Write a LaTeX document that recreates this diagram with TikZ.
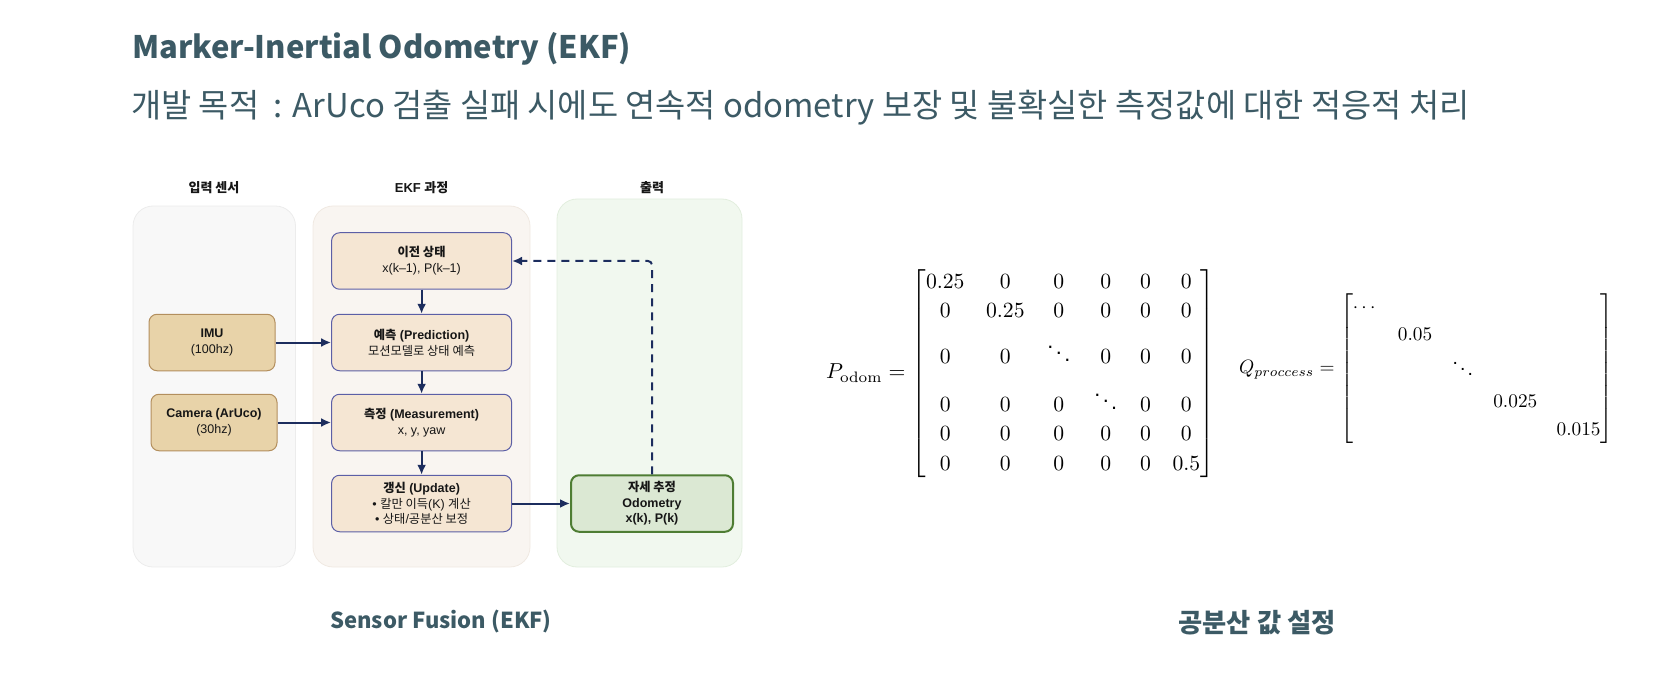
\documentclass[tikz,border=0pt]{standalone}
\usepackage{amsmath}
\usepackage[no-math]{fontspec}
\setmainfont{Liberation Sans}
\newfontfamily\krfont{Noto Sans CJK KR}
\newfontfamily\krbox[Scale=0.98]{Noto Sans CJK KR}
\newcommand\ko[1]{{\krbox #1}}
\usetikzlibrary{arrows.meta}

\definecolor{slate}{HTML}{3C5A65}
\definecolor{inpanel}{HTML}{F8F8F8}
\definecolor{inpanelline}{HTML}{ECECEC}
\definecolor{ekfpanel}{HTML}{F9F5F1}
\definecolor{ekfpanelline}{HTML}{F0E9E2}
\definecolor{outpanel}{HTML}{F1F8EF}
\definecolor{outpanelline}{HTML}{E2EEDE}
\definecolor{ekffill}{HTML}{F5E6D3}
\definecolor{ekfline}{HTML}{5C5FA6}
\definecolor{sensfill}{HTML}{E8D3A9}
\definecolor{sensline}{HTML}{B38F5E}
\definecolor{odofill}{HTML}{DBE8D3}
\definecolor{odoline}{HTML}{4E7D33}
\definecolor{flow}{HTML}{1C2D5E}
\definecolor{boxtext}{HTML}{161616}

\tikzset{
  panel/.style={rounded corners=20pt, line width=0.8pt},
  header/.style={font=\fontsize{13}{15}\selectfont\bfseries, text=boxtext, inner sep=0},
  ekfbox/.style={draw=ekfline, fill=ekffill, line width=1pt, rounded corners=8pt,
    minimum width=180pt, minimum height=56.5pt, align=center, inner sep=2pt,
    text=boxtext, font=\fontsize{12.5}{16}\selectfont},
  sensbox/.style={ekfbox, draw=sensline, fill=sensfill, minimum width=126pt},
  odobox/.style={ekfbox, draw=odoline, fill=odofill, line width=2pt,
    minimum width=162pt, font=\fontsize{12.5}{15.5}\selectfont\bfseries},
  flowarrow/.style={draw=flow, line width=2pt, -{Latex[length=10pt,width=9pt]}},
  dasharrow/.style={flowarrow, dash pattern=on 8pt off 6pt, rounded corners=4pt},
  caption/.style={text=slate, inner sep=0}
}

\begin{document}
\begin{tikzpicture}[x=1pt, y=-1pt]
\useasboundingbox (0,0) rectangle (1670,676);

% headings
\node[anchor=base west, inner sep=0, text=slate, font=\krfont\fontsize{31}{36}\selectfont\bfseries]
  (title) at (132,59) {Marker-Inertial Odometry (EKF)};
\node[anchor=base west, inner sep=0, text=slate, font=\krfont\fontsize{32.8}{38}\selectfont]
  (subtitle) at (131,118) {개발 목적~~: ArUco 검출 실패 시에도 연속적 odometry 보장 및 불확실한 측정값에 대한 적응적 처리};

% column panels
\filldraw[panel, fill=inpanel, draw=inpanelline] (133,206) rectangle (295.5,567);
\filldraw[panel, fill=ekfpanel, draw=ekfpanelline] (313,206) rectangle (530,567);
\filldraw[panel, fill=outpanel, draw=outpanelline] (557,199) rectangle (742,567);

\node[header] (hin)  at (214,188)   {{\krfont 입력 센서}};
\node[header] (hekf) at (421.6,188) {EKF {\krfont 과정}};
\node[header] (hout) at (652,188)   {{\krfont 출력}};

% EKF steps
\node[ekfbox] (prev) at (421.6,261)   {\textbf{\ko{이전 상태}}\\x(k–1), P(k–1)};
\node[ekfbox] (pred) at (421.6,342.5) {\textbf{\ko{예측} (Prediction)}\\\ko{모션모델로 상태 예측}};
\node[ekfbox] (meas) at (421.6,422.5) {\textbf{\ko{측정} (Measurement)}\\x, y, yaw};
\node[ekfbox, font=\fontsize{12.5}{15.5}\selectfont] (upd) at (421.6,503.5)
  {\textbf{\ko{갱신} (Update)}\\• \ko{칼만 이득}(K) \ko{계산}\\• \ko{상태}/\ko{공분산 보정}};

% sensors
\node[sensbox] (imu) at (212,342.5) {\textbf{IMU}\\(100hz)};
\node[sensbox] (cam) at (214,422.5) {\textbf{Camera (ArUco)}\\(30hz)};

% output
\node[odobox] (odo) at (652,503.5) {\ko{자세 추정}\\Odometry\\x(k), P(k)};

% connectors
\draw[flowarrow] (prev) -- (pred);
\draw[flowarrow] (pred) -- (meas);
\draw[flowarrow] (meas) -- (upd);
\draw[flowarrow] (imu) -- (pred);
\draw[flowarrow] (cam) -- (meas);
\draw[flowarrow] (upd) -- (odo);
\draw[dasharrow] (odo.north) -- (odo.north |- prev.east) -- (prev.east);

% covariance settings
\node[anchor=west, inner sep=0] (podom) at (826,373.5) {\scalebox{2.165}{\renewcommand\arraystretch{1.13}%
  $P_{\mathrm{odom}} = \begin{bmatrix}
  0.25 & 0 & 0 & 0 & 0 & 0\\
  0 & 0.25 & 0 & 0 & 0 & 0\\[2pt]
  0 & 0 & \ddots & 0 & 0 & 0\\[3pt]
  0 & 0 & 0 & \ddots & 0 & 0\\
  0 & 0 & 0 & 0 & 0 & 0\\
  0 & 0 & 0 & 0 & 0 & 0.5
  \end{bmatrix}$}};
\node[anchor=west, inner sep=0] (qproc) at (1239,368.5) {\scalebox{1.93}{\renewcommand\arraystretch{1.21}%
  $Q_{proccess} = \begin{bmatrix}
  \cdots & & & & \\
  & 0.05 & & & \\
  & & \ddots & & \\[1pt]
  & & & 0.025 & \\
  & & & & 0.015
  \end{bmatrix}$}};

% captions
\node[caption, font=\krfont\fontsize{22}{26}\selectfont\bfseries] (capl) at (441,621) {Sensor Fusion (EKF)};
\node[caption, font=\krfont\fontsize{26.3}{30}\selectfont\bfseries] (capr) at (1257,623) {공분산 값 설정};
\end{tikzpicture}
\end{document}
